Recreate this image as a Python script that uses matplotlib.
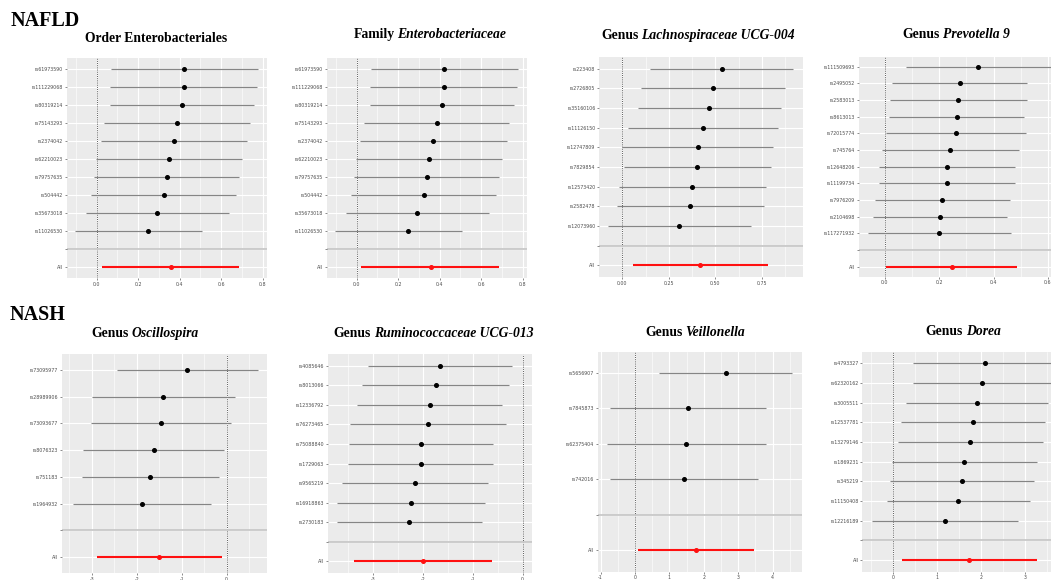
import numpy as np
import matplotlib
matplotlib.use("Agg")
import matplotlib.pyplot as plt
from matplotlib import font_manager as fm

# ---- leave-one-out estimates (beta, lower CI, upper CI) ----
# NAFLD: order Enterobacteriales
order_snps = ["rs61973590", "rs111229068", "rs80319214", "rs75143293", "rs2374042",
              "rs62210023", "rs79757635", "rs504442", "rs35673018", "rs11026530"]
order_b = [0.422, 0.421, 0.411, 0.386, 0.371, 0.348, 0.339, 0.323, 0.292, 0.247]
order_lo = [0.069, 0.064, 0.064, 0.037, 0.019, -0.002, -0.011, -0.026, -0.053, -0.103]
order_hi = [0.776, 0.774, 0.760, 0.737, 0.724, 0.702, 0.687, 0.671, 0.639, 0.509]
order_all = (0.357, 0.024, 0.687)

# NAFLD: family Enterobacteriaceae (same instruments)
family_snps = order_snps
family_b = order_b
family_lo = order_lo
family_hi = order_hi
family_all = order_all

# NAFLD: genus Lachnospiraceae UCG-004
lachno_snps = ["rs223408", "rs2726805", "rs35160106", "rs11126150", "rs12747809",
               "rs7829854", "rs12573420", "rs2582478", "rs12073960"]
lachno_b = [0.534, 0.489, 0.466, 0.432, 0.405, 0.403, 0.375, 0.366, 0.306]
lachno_lo = [0.149, 0.100, 0.083, 0.029, 0.000, 0.009, -0.018, -0.027, -0.075]
lachno_hi = [0.919, 0.875, 0.853, 0.839, 0.812, 0.800, 0.771, 0.760, 0.690]
lachno_all = (0.419, 0.059, 0.782)

# NAFLD: genus Prevotella 9
prevo_snps = ["rs111509693", "rs2495052", "rs2583013", "rs8613013", "rs72015774",
              "rs745764", "rs12648206", "rs11199734", "rs7976209", "rs2104698", "rs117271932"]
prevo_b = [0.344, 0.275, 0.270, 0.264, 0.260, 0.239, 0.227, 0.227, 0.211, 0.204, 0.200]
prevo_lo = [0.077, 0.026, 0.018, 0.015, 0.006, -0.012, -0.022, -0.021, -0.037, -0.043, -0.063]
prevo_hi = [0.612, 0.524, 0.522, 0.513, 0.519, 0.494, 0.478, 0.478, 0.462, 0.450, 0.464]
prevo_all = (0.247, 0.006, 0.488)

# NASH: genus Oscillospira
oscil_snps = ["rs73095977", "rs28989906", "rs73093677", "rs8076323", "rs751183", "rs1964932"]
oscil_b = [-0.875, -1.41, -1.46, -1.62, -1.70, -1.88]
oscil_lo = [-2.43, -2.99, -3.02, -3.19, -3.22, -3.42]
oscil_hi = [0.69, 0.18, 0.09, -0.05, -0.18, -0.34]
oscil_all = (-1.50, -2.89, -0.10)

# NASH: genus Ruminococcaceae UCG-013
rumino_snps = ["rs4085646", "rs8013066", "rs12336792", "rs76273465", "rs75088840",
               "rs1729063", "rs9565219", "rs16918863", "rs2730183"]
rumino_b = [-1.65, -1.74, -1.86, -1.90, -2.03, -2.04, -2.15, -2.23, -2.27]
rumino_lo = [-3.09, -3.21, -3.31, -3.46, -3.48, -3.50, -3.61, -3.71, -3.71]
rumino_hi = [-0.21, -0.27, -0.42, -0.33, -0.59, -0.59, -0.69, -0.76, -0.82]
rumino_all = (-1.99, -3.37, -0.61)

# NASH: genus Veillonella
veil_snps = ["rs5656907", "rs7845873", "rs62375404", "rs742016"]
veil_b = [2.65, 1.53, 1.49, 1.42]
veil_lo = [0.71, -0.73, -0.81, -0.73]
veil_hi = [4.57, 3.80, 3.80, 3.57]
veil_all = (1.76, 0.10, 3.45)

# NASH: genus Dorea
dorea_snps = ["rs4793327", "rs62320162", "rs3005511", "rs12537781", "rs13279146",
              "rs1869231", "rs345219", "rs11150408", "rs12216189"]
dorea_b = [2.08, 2.02, 1.91, 1.81, 1.75, 1.61, 1.56, 1.47, 1.17]
dorea_lo = [0.45, 0.44, 0.29, 0.17, 0.10, -0.04, -0.08, -0.15, -0.49]
dorea_hi = [3.71, 3.60, 3.52, 3.45, 3.40, 3.27, 3.20, 3.10, 2.84]
dorea_all = (1.72, 0.19, 3.26)

W, H = 1051, 580
fig = plt.figure(figsize=(W / 100, H / 100), dpi=100)
fig.patch.set_facecolor("white")

SERIF = "Liberation Serif"


def italic_file(fam):
    """Path of a bold italic face for fam, or None if the family has none."""
    p = fm.findfont(fm.FontProperties(family=fam, style="italic", weight="bold"))
    name = p.lower()
    if ("italic" in name or "oblique" in name) and fam.split()[0].lower() in name.replace(" ", ""):
        return p
    return None


ITALIC_PROPS = None
for fam in [SERIF, "Noto Serif", "DejaVu Serif"]:
    f = italic_file(fam)
    if f:
        ITALIC_PROPS = fm.FontProperties(fname=f)
        break
if ITALIC_PROPS is None:
    ITALIC_PROPS = fm.FontProperties(family=SERIF, style="italic", weight="bold")

TITLE_SIZE = 9.8


def forest(box, xlim, ticks, ticklabels, snps, b, lo, hi, overall):
    """ggplot-style leave-one-out forest plot in a pixel box (x0, x1, top, bottom)."""
    x0, x1, top, bottom = box
    ax = fig.add_axes([x0 / W, 1 - bottom / H, (x1 - x0) / W, (bottom - top) / H])
    ax.set_facecolor("#EBEBEB")
    for s in ax.spines.values():
        s.set_visible(False)

    n = len(snps)
    ypos = np.arange(n + 2, 2, -1)          # SNP rows, top to bottom
    sep = 2                                 # empty row with the grey separator
    ax.set_ylim(0.4, n + 2.6)
    ax.set_xlim(*xlim)

    # grid
    step = ticks[1] - ticks[0]
    minors = [t - step / 2 for t in ticks] + [ticks[-1] + step / 2]
    for m in minors:
        if xlim[0] < m < xlim[1]:
            ax.axvline(m, color="white", lw=0.4, zorder=0)
    for t in ticks:
        ax.axvline(t, color="white", lw=0.8, zorder=0)
    for y in list(ypos) + [sep, 1]:
        ax.axhline(y, color="white", lw=0.8, zorder=0)

    ax.axvline(0, color="#444444", lw=0.65, ls=(0, (1, 1.4)), zorder=1)
    ax.axhline(sep, color="#C8C8C8", lw=1.3, zorder=1)

    ax.hlines(ypos, lo, hi, color="#858585", lw=0.85, zorder=2)
    ax.plot(b, ypos, "o", color="black", ms=2.6, zorder=3)
    ax.hlines(1, overall[1], overall[2], color="#FF1010", lw=1.5, zorder=2)
    ax.plot(overall[0], 1, "o", color="#FF1010", ms=2.6, zorder=3)

    ax.set_xticks(ticks)
    ax.set_xticklabels(ticklabels)
    ax.set_yticks(list(ypos) + [sep, 1])
    ax.set_yticklabels(list(snps) + ["", "All"])
    ax.tick_params(axis="both", labelsize=3.4, labelcolor="#4D4D4D", color="#333333",
                   length=1.6, width=0.4, pad=1.0)
    return ax


def title(cx, baseline, plain, italic=""):
    """Bold serif title with an optional italic taxon name, centred at cx (pixels)."""
    r = fig.canvas.get_renderer()
    objs = [fig.text(0, 0, plain, fontsize=TITLE_SIZE, fontweight="bold",
                     family=SERIF, va="baseline", ha="left")]
    if italic:
        it = fig.text(0, 0, italic, fontproperties=ITALIC_PROPS, va="baseline", ha="left")
        it.set_fontsize(TITLE_SIZE)
        objs.append(it)
    widths = [o.get_window_extent(renderer=r).width for o in objs]
    gap = 0.21 * TITLE_SIZE * 100 / 72
    total = sum(widths) + gap * (len(objs) - 1)
    x = cx - total / 2
    for o, w in zip(objs, widths):
        o.set_position((x / W, 1 - baseline / H))
        x += w + gap


forest((66.7, 267, 58, 278), (-0.1446, 0.8207), [0, 0.2, 0.4, 0.6, 0.8],
       ["0.0", "0.2", "0.4", "0.6", "0.8"], order_snps, order_b, order_lo, order_hi, order_all)
forest((326.5, 526.8, 58, 278), (-0.1446, 0.8207), [0, 0.2, 0.4, 0.6, 0.8],
       ["0.0", "0.2", "0.4", "0.6", "0.8"], family_snps, family_b, family_lo, family_hi, family_all)
forest((599, 803, 56.7, 277.3), (-0.125, 0.9715), [0, 0.25, 0.5, 0.75],
       ["0.00", "0.25", "0.50", "0.75"], lachno_snps, lachno_b, lachno_lo, lachno_hi, lachno_all)
forest((858.5, 1060.4, 56.7, 276.7), (-0.097, 0.646), [0, 0.2, 0.4, 0.6],
       ["0.0", "0.2", "0.4", "0.6"], prevo_snps, prevo_b, prevo_lo, prevo_hi, prevo_all)

forest((61.7, 266.7, 354, 573), (-3.667, 0.889), [-3, -2, -1, 0],
       ["-3", "-2", "-1", "0"], oscil_snps, oscil_b, oscil_lo, oscil_hi, oscil_all)
forest((327.7, 532.2, 354, 573), (-3.9, 0.19), [-3, -2, -1, 0],
       ["-3", "-2", "-1", "0"], rumino_snps, rumino_b, rumino_lo, rumino_hi, rumino_all)
forest((597.7, 801.7, 351.7, 571.7), (-1.084, 4.846), [-1, 0, 1, 2, 3, 4],
       ["-1", "0", "1", "2", "3", "4"], veil_snps, veil_b, veil_lo, veil_hi, veil_all)
forest((862.3, 1065.8, 351.7, 571.7), (-0.705, 3.92), [0, 1, 2, 3],
       ["0", "1", "2", "3"], dorea_snps, dorea_b, dorea_lo, dorea_hi, dorea_all)

title(156, 42, "Order Enterobacteriales")
title(430, 37.7, "Family", "Enterobacteriaceae")
title(698, 39.3, "Genus", "Lachnospiraceae UCG-004")
title(956, 37.7, "Genus", "Prevotella 9")
title(145, 336.7, "Genus", "Oscillospira")
title(433.5, 336.7, "Genus", "Ruminococcaceae UCG-013")
title(695, 336, "Genus", "Veillonella")
title(963, 335, "Genus", "Dorea")

fig.text(11 / W, 1 - 26 / H, "NAFLD", fontsize=14.5, fontweight="bold", family=SERIF, va="baseline")
fig.text(10 / W, 1 - 320 / H, "NASH", fontsize=14.5, fontweight="bold", family=SERIF, va="baseline")

fig.savefig("out.png", dpi=100)
